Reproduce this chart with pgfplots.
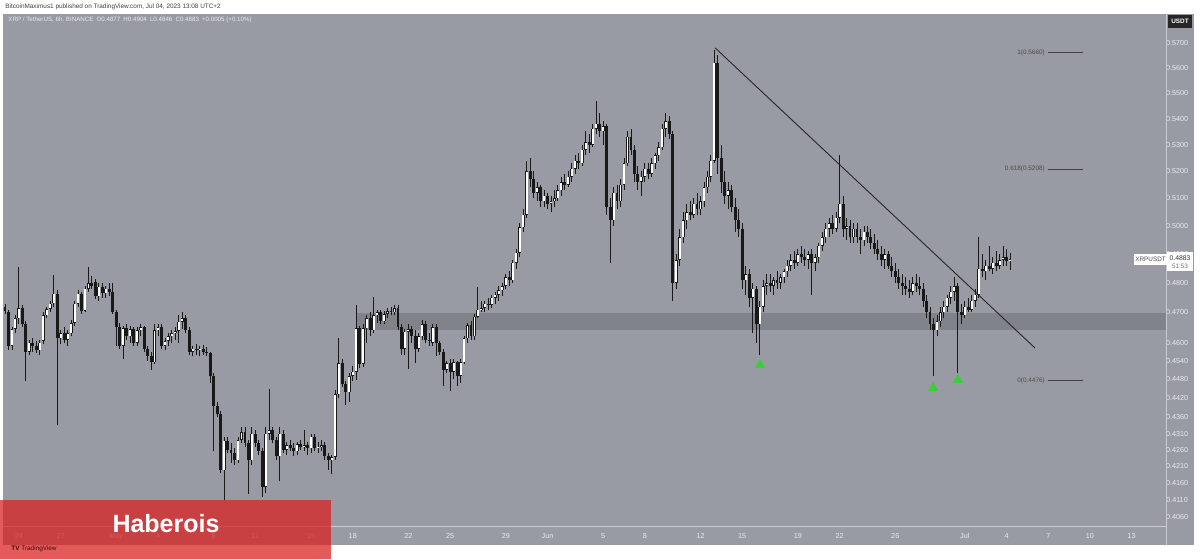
\documentclass[border=0pt]{standalone}
\usepackage{pgfplots}
\pgfplotsset{compat=1.18}
\usepackage{pgfplotstable}
\usepackage{fontspec}
\setmainfont{Liberation Sans}
\definecolor{bg}{RGB}{152,155,163}
\definecolor{band}{RGB}{128,131,138}
\definecolor{lbl}{RGB}{232,234,238}
\definecolor{wm}{RGB}{217,33,33}
\definecolor{trigreen}{RGB}{60,205,60}
\definecolor{sep}{RGB}{200,202,208}

\pgfplotstableread{
x o h l c
0 0.4718 0.4730 0.4695 0.4705
1 0.4702 0.4710 0.4575 0.4590
2 0.4590 0.4650 0.4575 0.4645
3 0.4645 0.4690 0.4630 0.4680
4 0.4680 0.4857 0.4660 0.4715
5 0.4715 0.4725 0.4650 0.4660
6 0.4660 0.4670 0.4476 0.4570
7 0.4570 0.4610 0.4560 0.4600
8 0.4600 0.4615 0.4570 0.4590
9 0.4590 0.4605 0.4565 0.4575
10 0.4575 0.4610 0.4560 0.4600
11 0.4605 0.4700 0.4595 0.4690
12 0.4690 0.4720 0.4680 0.4712
13 0.4712 0.4740 0.4700 0.4730
14 0.4731 0.4827 0.4720 0.4764
15 0.4764 0.4775 0.4335 0.4614
16 0.4614 0.4640 0.4595 0.4630
17 0.4630 0.4650 0.4600 0.4610
18 0.4610 0.4640 0.4590 0.4630
19 0.4630 0.4675 0.4620 0.4665
20 0.4665 0.4740 0.4655 0.4730
21 0.4730 0.4775 0.4720 0.4764
22 0.4764 0.4770 0.4695 0.4705
23 0.4705 0.4790 0.4700 0.4780
24 0.4780 0.4857 0.4770 0.4800
25 0.4800 0.4825 0.4780 0.4790
26 0.4804 0.4815 0.4745 0.4755
27 0.4755 0.4800 0.4740 0.4787
28 0.4787 0.4800 0.4750 0.4765
29 0.4765 0.4790 0.4750 0.4780
30 0.4780 0.4800 0.4755 0.4770
31 0.4770 0.4800 0.4695 0.4703
32 0.4703 0.4710 0.4587 0.4652
33 0.4652 0.4665 0.4580 0.4590
34 0.4590 0.4655 0.4545 0.4647
35 0.4647 0.4660 0.4610 0.4620
36 0.4620 0.4655 0.4600 0.4645
37 0.4645 0.4650 0.4590 0.4600
38 0.4600 0.4650 0.4590 0.4640
39 0.4640 0.4660 0.4620 0.4650
40 0.4650 0.4655 0.4570 0.4580
41 0.4580 0.4590 0.4540 0.4555
42 0.4555 0.4570 0.4510 0.4535
43 0.4535 0.4660 0.4530 0.4641
44 0.4641 0.4660 0.4620 0.4650
45 0.4650 0.4660 0.4580 0.4590
46 0.4590 0.4615 0.4575 0.4605
47 0.4605 0.4630 0.4590 0.4620
48 0.4620 0.4640 0.4600 0.4630
49 0.4630 0.4650 0.4610 0.4638
50 0.4638 0.4690 0.4600 0.4669
51 0.4669 0.4703 0.4645 0.4680
52 0.4680 0.4690 0.4630 0.4640
53 0.4640 0.4650 0.4560 0.4570
54 0.4570 0.4590 0.4555 0.4580
55 0.4580 0.4595 0.4560 0.4575
56 0.4575 0.4590 0.4555 0.4580
57 0.4580 0.4592 0.4560 0.4570
58 0.4570 0.4585 0.4555 0.4565
59 0.4565 0.4570 0.4470 0.4491
60 0.4491 0.4500 0.4255 0.4397
61 0.4397 0.4410 0.4360 0.4371
62 0.4371 0.4380 0.4190 0.4198
63 0.4198 0.4300 0.4110 0.4288
64 0.4288 0.4300 0.4250 0.4260
65 0.4260 0.4280 0.4220 0.4250
66 0.4250 0.4265 0.4215 0.4228
67 0.4228 0.4300 0.4220 0.4290
68 0.4290 0.4330 0.4280 0.4314
69 0.4314 0.4330 0.4270 0.4282
70 0.4282 0.4290 0.4128 0.4228
71 0.4228 0.4330 0.4215 0.4310
72 0.4310 0.4320 0.4270 0.4280
73 0.4280 0.4290 0.4245 0.4258
74 0.4258 0.4265 0.4120 0.4148
75 0.4148 0.4330 0.4130 0.4310
76 0.4310 0.4449 0.4290 0.4320
77 0.4320 0.4330 0.4280 0.4290
78 0.4290 0.4300 0.4230 0.4240
79 0.4240 0.4330 0.4165 0.4310
80 0.4310 0.4320 0.4250 0.4260
81 0.4260 0.4285 0.4245 0.4275
82 0.4275 0.4290 0.4255 0.4265
83 0.4265 0.4280 0.4240 0.4255
84 0.4255 0.4285 0.4245 0.4278
85 0.4278 0.4290 0.4260 0.4270
86 0.4270 0.4320 0.4255 0.4275
87 0.4275 0.4285 0.4245 0.4265
88 0.4265 0.4310 0.4250 0.4300
89 0.4300 0.4310 0.4255 0.4265
90 0.4265 0.4285 0.4250 0.4270
91 0.4270 0.4290 0.4255 0.4275
92 0.4275 0.4285 0.4230 0.4240
93 0.4240 0.4250 0.4200 0.4228
94 0.4228 0.4245 0.4186 0.4238
95 0.4238 0.4445 0.4230 0.4433
96 0.4433 0.4614 0.4420 0.4533
97 0.4533 0.4545 0.4455 0.4465
98 0.4465 0.4475 0.4400 0.4439
99 0.4439 0.4500 0.4410 0.4491
100 0.4491 0.4525 0.4475 0.4505
101 0.4505 0.4725 0.4479 0.4647
102 0.4647 0.4655 0.4517 0.4530
103 0.4530 0.4660 0.4520 0.4647
104 0.4647 0.4690 0.4600 0.4680
105 0.4680 0.4700 0.4620 0.4640
106 0.4640 0.4753 0.4630 0.4690
107 0.4690 0.4710 0.4665 0.4700
108 0.4700 0.4710 0.4660 0.4670
109 0.4670 0.4705 0.4660 0.4695
110 0.4695 0.4715 0.4680 0.4705
111 0.4705 0.4720 0.4690 0.4700
112 0.4700 0.4725 0.4690 0.4715
113 0.4715 0.4725 0.4640 0.4652
114 0.4652 0.4660 0.4560 0.4580
115 0.4580 0.4645 0.4560 0.4636
116 0.4636 0.4660 0.4515 0.4645
117 0.4645 0.4655 0.4600 0.4620
118 0.4620 0.4640 0.4533 0.4580
119 0.4580 0.4630 0.4570 0.4620
120 0.4620 0.4675 0.4610 0.4660
121 0.4660 0.4670 0.4600 0.4610
122 0.4610 0.4630 0.4590 0.4605
123 0.4600 0.4660 0.4590 0.4650
124 0.4650 0.4660 0.4556 0.4600
125 0.4600 0.4605 0.4560 0.4570
126 0.4570 0.4580 0.4458 0.4512
127 0.4512 0.4540 0.4500 0.4533
128 0.4533 0.4545 0.4443 0.4505
129 0.4505 0.4545 0.4480 0.4535
130 0.4535 0.4540 0.4458 0.4491
131 0.4491 0.4545 0.4470 0.4535
132 0.4535 0.4620 0.4530 0.4614
133 0.4614 0.4665 0.4600 0.4658
134 0.4658 0.4670 0.4610 0.4620
135 0.4620 0.4695 0.4610 0.4686
136 0.4686 0.4787 0.4680 0.4710
137 0.4710 0.4740 0.4700 0.4715
138 0.4715 0.4740 0.4700 0.4730
139 0.4730 0.4750 0.4710 0.4725
140 0.4725 0.4760 0.4715 0.4750
141 0.4750 0.4770 0.4730 0.4760
142 0.4760 0.4790 0.4740 0.4775
143 0.4775 0.4800 0.4755 0.4790
144 0.4790 0.4830 0.4780 0.4820
145 0.4820 0.4840 0.4790 0.4810
146 0.4810 0.4880 0.4800 0.4870
147 0.4870 0.4920 0.4850 0.4905
148 0.4905 0.5010 0.4890 0.4995
149 0.4995 0.5060 0.4980 0.5040
150 0.5040 0.5240 0.5030 0.5200
151 0.5200 0.5250 0.5140 0.5170
152 0.5170 0.5200 0.5100 0.5120
153 0.5120 0.5160 0.5090 0.5140
154 0.5140 0.5150 0.5070 0.5090
155 0.5090 0.5130 0.5070 0.5110
156 0.5110 0.5120 0.5060 0.5080
157 0.5080 0.5110 0.5050 0.5090
158 0.5090 0.5130 0.5070 0.5100
159 0.5100 0.5150 0.5090 0.5130
160 0.5130 0.5180 0.5110 0.5160
161 0.5160 0.5190 0.5130 0.5150
162 0.5150 0.5200 0.5140 0.5180
163 0.5180 0.5230 0.5160 0.5210
164 0.5210 0.5260 0.5190 0.5240
165 0.5240 0.5270 0.5210 0.5230
166 0.5230 0.5300 0.5220 0.5280
167 0.5280 0.5350 0.5260 0.5310
168 0.5310 0.5340 0.5270 0.5300
169 0.5300 0.5380 0.5290 0.5360
170 0.5360 0.5470 0.5340 0.5380
171 0.5380 0.5420 0.5330 0.5350
172 0.5350 0.5390 0.5300 0.5370
173 0.5370 0.5380 0.5040 0.5070
174 0.5070 0.5100 0.4870 0.5020
175 0.5020 0.5140 0.5000 0.5120
176 0.5120 0.5150 0.5060 0.5090
177 0.5090 0.5170 0.5070 0.5150
178 0.5150 0.5250 0.5130 0.5230
179 0.5230 0.5350 0.5220 0.5330
180 0.5330 0.5360 0.5260 0.5280
181 0.5280 0.5300 0.5160 0.5190
182 0.5190 0.5220 0.5130 0.5160
183 0.5160 0.5200 0.5110 0.5180
184 0.5180 0.5230 0.5160 0.5210
185 0.5210 0.5230 0.5170 0.5190
186 0.5190 0.5250 0.5180 0.5230
187 0.5230 0.5270 0.5210 0.5260
188 0.5260 0.5310 0.5240 0.5290
189 0.5290 0.5380 0.5280 0.5360
190 0.5360 0.5420 0.5330 0.5390
191 0.5390 0.5410 0.5320 0.5340
192 0.5340 0.5350 0.4740 0.4800
193 0.4800 0.4900 0.4780 0.4880
194 0.4880 0.4990 0.4860 0.4960
195 0.4960 0.5050 0.4940 0.5020
196 0.5020 0.5080 0.4990 0.5050
197 0.5050 0.5090 0.5020 0.5040
198 0.5040 0.5100 0.5030 0.5080
199 0.5080 0.5120 0.5040 0.5060
200 0.5060 0.5110 0.5040 0.5090
201 0.5090 0.5160 0.5070 0.5140
202 0.5140 0.5200 0.5120 0.5180
203 0.5180 0.5260 0.5160 0.5240
204 0.5240 0.5670 0.5230 0.5620
205 0.5620 0.5650 0.5190 0.5250
206 0.5250 0.5300 0.5120 0.5160
207 0.5160 0.5200 0.5080 0.5110
208 0.5110 0.5160 0.5060 0.5130
209 0.5130 0.5150 0.5050 0.5070
210 0.5070 0.5100 0.4980 0.5020
211 0.5020 0.5060 0.4960 0.4990
212 0.4990 0.5010 0.4780 0.4810
213 0.4810 0.4860 0.4760 0.4830
214 0.4830 0.4850 0.4720 0.4750
215 0.4750 0.4800 0.4630 0.4780
216 0.4780 0.4790 0.4600 0.4660
217 0.4660 0.4740 0.4560 0.4720
218 0.4720 0.4810 0.4700 0.4790
219 0.4790 0.4830 0.4760 0.4800
220 0.4800 0.4830 0.4770 0.4790
221 0.4790 0.4820 0.4760 0.4810
222 0.4810 0.4840 0.4780 0.4800
223 0.4800 0.4830 0.4780 0.4820
224 0.4820 0.4850 0.4800 0.4840
225 0.4840 0.4880 0.4820 0.4860
226 0.4860 0.4900 0.4840 0.4880
227 0.4880 0.4910 0.4850 0.4870
228 0.4870 0.4920 0.4860 0.4900
229 0.4900 0.4930 0.4870 0.4890
230 0.4890 0.4920 0.4860 0.4880
231 0.4880 0.4910 0.4850 0.4900
232 0.4900 0.4920 0.4760 0.4870
233 0.4870 0.4900 0.4840 0.4890
234 0.4890 0.4940 0.4870 0.4930
235 0.4930 0.4980 0.4910 0.4960
236 0.4960 0.5010 0.4940 0.4990
237 0.4990 0.5030 0.4960 0.5010
238 0.5010 0.5040 0.4970 0.4990
239 0.4990 0.5050 0.4980 0.5030
240 0.5030 0.5260 0.5010 0.5080
241 0.5080 0.5110 0.4960 0.4990
242 0.4990 0.5030 0.4950 0.5000
243 0.5000 0.5020 0.4940 0.4960
244 0.4960 0.5010 0.4940 0.4990
245 0.4990 0.5010 0.4940 0.4960
246 0.4960 0.4990 0.4900 0.4950
247 0.4950 0.5000 0.4930 0.4980
248 0.4980 0.5000 0.4940 0.4960
249 0.4960 0.4990 0.4920 0.4940
250 0.4940 0.4970 0.4900 0.4920
251 0.4920 0.4950 0.4880 0.4900
252 0.4900 0.4930 0.4860 0.4880
253 0.4880 0.4920 0.4850 0.4900
254 0.4900 0.4910 0.4850 0.4860
255 0.4860 0.4890 0.4820 0.4840
256 0.4840 0.4870 0.4800 0.4820
257 0.4820 0.4850 0.4780 0.4800
258 0.4800 0.4830 0.4760 0.4790
259 0.4790 0.4820 0.4760 0.4780
260 0.4780 0.4810 0.4750 0.4770
261 0.4770 0.4820 0.4760 0.4800
262 0.4800 0.4830 0.4770 0.4790
263 0.4790 0.4820 0.4760 0.4780
264 0.4780 0.4800 0.4720 0.4740
265 0.4740 0.4760 0.4680 0.4700
266 0.4700 0.4720 0.4640 0.4660
267 0.4660 0.4680 0.4490 0.4640
268 0.4640 0.4690 0.4620 0.4670
269 0.4670 0.4720 0.4650 0.4700
270 0.4700 0.4740 0.4680 0.4720
271 0.4720 0.4760 0.4700 0.4750
272 0.4750 0.4790 0.4730 0.4770
273 0.4770 0.4820 0.4740 0.4790
274 0.4790 0.4800 0.4500 0.4700
275 0.4700 0.4730 0.4660 0.4690
276 0.4690 0.4740 0.4680 0.4720
277 0.4720 0.4750 0.4700 0.4710
278 0.4710 0.4760 0.4700 0.4740
279 0.4740 0.4780 0.4720 0.4760
280 0.4760 0.4960 0.4750 0.4850
281 0.4850 0.4900 0.4820 0.4840
282 0.4840 0.4880 0.4810 0.4860
283 0.4860 0.4930 0.4840 0.4850
284 0.4850 0.4890 0.4830 0.4870
285 0.4870 0.4910 0.4840 0.4860
286 0.4860 0.4900 0.4850 0.4880
287 0.4880 0.4930 0.4860 0.4890
288 0.4890 0.4920 0.4860 0.4877
289 0.4877 0.4904 0.4846 0.4883
}\candles

\newcommand{\tk}{\fontsize{3.6}{4}\selectfont}

\begin{document}
\begin{tikzpicture}
\path[use as bounding box, fill=white] (0pt,0pt) rectangle (600pt,279.5pt);
\fill[bg] (1.5pt,7pt) rectangle (597pt,272.5pt);
\begin{axis}[
  at={(1.5pt,16.5pt)}, anchor=south west, scale only axis,
  width=581.5pt, height=256pt,
  xmin=-0.575, xmax=333.86,
  ymode=log, ymin=0.40339, ymax=0.58196,
  enlargelimits=false,
  axis line style={draw=none},
  major tick length=0pt, minor tick num=0,
  xtick={4,16,32,44,60,72,88,100,116,128,144,156,172,184,200,212,228,240,256,276,288,300,312,324},
  xticklabels={24,27,May,4,8,11,15,18,22,25,29,Jun,5,8,12,15,19,22,26,Jul,4,7,10,13},
  xticklabel style={font=\tk, text=lbl},
  ytick={0.406,0.411,0.416,0.421,0.426,0.431,0.436,0.442,0.448,0.454,0.46,0.47,0.48,0.49,0.50,0.51,0.52,0.53,0.54,0.55,0.56,0.57},
  yticklabels={0.4060,0.4110,0.4160,0.4210,0.4260,0.4310,0.4360,0.4420,0.4480,0.4540,0.4600,0.4700,0.4800,0.4900,0.5000,0.5100,0.5200,0.5300,0.5400,0.5500,0.5600,0.5700},
  yticklabel pos=right,
  yticklabel style={font=\tk, text=lbl, anchor=center, xshift=5.5pt},
  clip=true,
]
% support band
\fill[band] (axis cs:101.2,0.4641) rectangle (axis cs:340,0.4698);
% fib levels
\draw[black!75, line width=0.4pt] (axis cs:299.9,0.5660) -- (axis cs:310.0,0.5660);
\draw[black!75, line width=0.4pt] (axis cs:299.9,0.5208) -- (axis cs:310.0,0.5208);
\draw[black!75, line width=0.4pt] (axis cs:299.9,0.4476) -- (axis cs:310.0,0.4476);
\node[anchor=east, font=\fontsize{3.2}{4}\selectfont, text=black!70, inner sep=0.5pt] at (axis cs:299.4,0.5660) {1(0.5660)};
\node[anchor=east, font=\fontsize{3.2}{4}\selectfont, text=black!70, inner sep=0.5pt] at (axis cs:299.4,0.5208) {0.618(0.5208)};
\node[anchor=east, font=\fontsize{3.2}{4}\selectfont, text=black!70, inner sep=0.5pt] at (axis cs:299.4,0.4476) {0(0.4476)};
% wicks
\addplot[draw=none, mark=none,
  error bars/.cd, y dir=plus, y explicit, error mark=none,
  error bar style={draw=black!90, line width=0.45pt}]
  table[x=x, y=l, y error plus expr=\thisrow{h}-\thisrow{l}] {\candles};
% bodies (black)
\addplot[draw=none, mark=none,
  error bars/.cd, y dir=plus, y explicit, error mark=none,
  error bar style={draw=black!90, line width=1.45pt}]
  table[x=x, y=o, y error plus expr=\thisrow{c}-\thisrow{o}] {\candles};
% white fill of rising bodies
\addplot[draw=none, mark=none,
  error bars/.cd, y dir=plus, y explicit, error mark=none,
  error bar style={draw=white, line width=0.95pt}]
  table[x=x, y expr=\thisrow{o}+0.0002, y error plus expr={max(\thisrow{c}-\thisrow{o}-0.0004,0)}] {\candles};
% trend line
\draw[black!85, line width=0.45pt] (axis cs:204.2,0.5680) -- (axis cs:296.2,0.4582);
% green triangles
\addplot[only marks, mark=triangle*, mark size=2.6pt, color=trigreen, mark options={draw=trigreen, fill=trigreen}]
  coordinates {(217.1,0.4527) (266.9,0.4453) (274.0,0.4479)};
\end{axis}
% separators
\draw[sep, line width=0.5pt] (1.5pt,16.5pt) -- (583pt,16.5pt);
\draw[sep, line width=0.5pt] (583pt,7pt) -- (583pt,272.5pt);
% header
\node[anchor=west, inner sep=0pt, font=\fontsize{3.2}{4}\selectfont, text=black!75] at (2.5pt,276pt) {BitcoinMaximus1 published on TradingView.com, Jul 04, 2023 13:08 UTC+2};
\node[anchor=west, inner sep=0pt, font=\fontsize{3.1}{4}\selectfont, text=lbl] at (4pt,269.5pt) {XRP / TetherUS, 6h, BINANCE\enspace O0.4877\enspace H0.4904\enspace L0.4846\enspace C0.4883\enspace +0.0005 (+0.10\%)};
% USDT box
\node[fill=black!85, text=white, inner sep=1.2pt, font=\bfseries\fontsize{3.2}{4}\selectfont, minimum width=12pt, minimum height=6.5pt] at (590pt,268.7pt) {USDT};
% price labels
\node[fill=white, text=black!70, inner sep=0.8pt, font=\fontsize{3.2}{4}\selectfont, minimum width=16pt, minimum height=5.5pt] at (575.3pt,149.8pt) {XRPUSDT};
\node[fill=white, inner sep=0pt, minimum width=13pt, minimum height=9.5pt, anchor=north west] at (583.5pt,153.5pt) {};
\node[text=black!80, font=\fontsize{3.4}{4}\selectfont, inner sep=0pt] at (590pt,150.5pt) {0.4883};
\node[text=black!55, font=\fontsize{3.2}{4}\selectfont, inner sep=0pt] at (590pt,146.3pt) {51:53};
% watermark
\fill[wm, opacity=0.74] (0pt,0pt) rectangle (165.5pt,29.5pt);
\node[text=white, font=\bfseries\fontsize{12.5}{13}\selectfont, inner sep=0pt] at (83pt,17.5pt) {Haberois};
\node[anchor=west, text=black!70!wm, font=\fontsize{3.2}{4}\selectfont, inner sep=0pt] at (5.5pt,5pt) {\textbf{TV} TradingView};
\end{tikzpicture}
\end{document}
